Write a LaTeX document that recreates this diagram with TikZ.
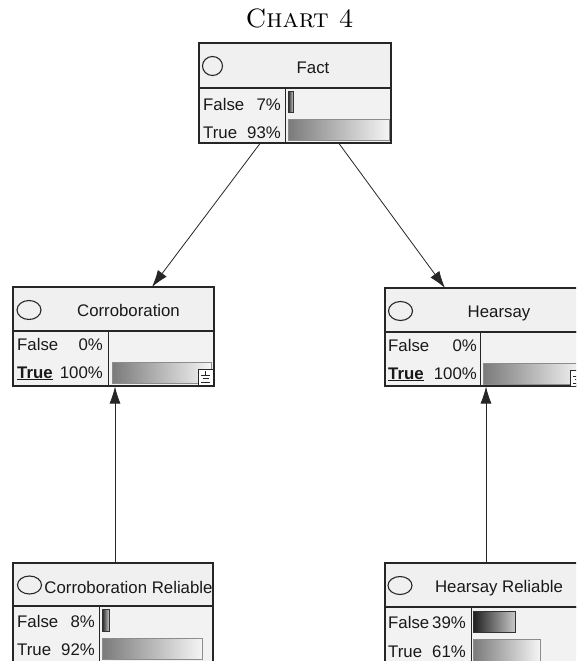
\documentclass[tikz,border=0pt]{standalone}
\usepackage{fontspec}
\newfontfamily\bnfont{Liberation Sans}
\usetikzlibrary{arrows.meta}
\begin{document}
\begin{tikzpicture}[x=1pt,y=-1pt,
  boxline/.style={draw=black!85,line width=1.1pt},
  hdr/.style={boxline,fill=black!6,rectangle,inner sep=0pt,outer sep=0pt,anchor=north west},
  tbl/.style={boxline,fill=black!5,rectangle,inner sep=0pt,outer sep=0pt,anchor=north west},
  lbl/.style={font=\bnfont\fontsize{16.8}{18}\selectfont,inner sep=0pt,text=black!90},
  bar/.style={draw=black!45,line width=0.8pt,left color=black!52,right color=black!4},
  darkbar/.style={draw=black!80,line width=0.8pt,left color=black!88,right color=black!22},
  oval/.style={draw=black!85,line width=1.1pt},
  link/.style={draw=black!85,line width=0.8pt,-{Latex[length=17pt,width=11pt]}},
  divider/.style={draw=black!85,line width=1pt}]
\useasboundingbox (0,0) rectangle (576,661);
\clip (0,0) rectangle (576,661);
\fill[white] (0,0) rectangle (576,661);

% title
\node (title) at (299.5,18) {\fontsize{26.5}{30}\selectfont\textsc{Chart 4}};

% ---------- Fact ----------
\node[hdr,minimum width=192pt,minimum height=45pt] (facth) at (199,43) {};
\node[tbl,minimum width=192pt,minimum height=55pt] (factt) at (199,88) {};
\draw[divider] (285,88) -- (285,143);
\draw[oval] (212.5,66) ellipse (10pt and 9.5pt);
\node[lbl,anchor=base] (factn) at (313,74) {Fact};
\node[lbl,anchor=base west] (factf) at (203,110) {False};
\node[lbl,anchor=base east] (factfp) at (281,110) {7\%};
\node[lbl,anchor=base west] (factt1) at (203,138) {True};
\node[lbl,anchor=base east] (factp) at (281,138) {93\%};
\draw[darkbar] (288,91) rectangle (293,112);
\draw[bar] (288,119) rectangle (389,140);

% ---------- Corroboration ----------
\node[hdr,minimum width=201pt,minimum height=44pt] (corh) at (13,287) {};
\node[tbl,minimum width=201pt,minimum height=55pt] (cort) at (13,331) {};
\draw[divider] (108,331) -- (108,386);
\draw[oval] (29,310) ellipse (12pt and 9.5pt);
\node[lbl,anchor=base] (corn) at (128.5,316) {Corroboration};
\node[lbl,anchor=base west] (corf) at (17,350) {False};
\node[lbl,anchor=base east] (corfp) at (103,350) {0\%};
\node[lbl,anchor=base west] (cortr) at (17,378) {\underline{\textbf{True}}};
\node[lbl,anchor=base east] (corp) at (103,378) {100\%};
\draw[bar] (112,362) rectangle (211,383);
\draw[black!85,line width=0.8pt,fill=white] (198,369) rectangle (213,385);
\draw[black!85,line width=0.7pt] (205.5,371) -- (205.5,375)
  (201,375) -- (210,375) (202.5,378.5) -- (208.5,378.5) (201,382) -- (210,382);

% ---------- Hearsay ----------
\node[hdr,minimum width=220pt,minimum height=44pt] (hsh) at (385,288) {};
\node[tbl,minimum width=220pt,minimum height=54pt] (hst) at (385,332) {};
\draw[divider] (480,332) -- (480,386);
\draw[oval] (400.5,311) ellipse (12pt and 9.5pt);
\node[lbl,anchor=base] (hsn) at (499,317) {Hearsay};
\node[lbl,anchor=base west] (hsf) at (388,351) {False};
\node[lbl,anchor=base east] (hsfp) at (477,351) {0\%};
\node[lbl,anchor=base west] (hstr) at (388,379) {\underline{\textbf{True}}};
\node[lbl,anchor=base east] (hsp) at (477,379) {100\%};
\draw[bar] (483,363) rectangle (582,384);
\draw[black!85,line width=0.8pt,fill=white] (570,370) rectangle (585,386);
\draw[black!85,line width=0.7pt] (577.5,372) -- (577.5,376)
  (573,376) -- (582,376) (574.5,379.5) -- (580.5,379.5) (573,383) -- (582,383);

% ---------- Corroboration Reliable ----------
\node[hdr,minimum width=200pt,minimum height=43pt] (crh) at (13,563) {};
\node[tbl,minimum width=200pt,minimum height=70pt] (crt) at (13,606) {};
\draw[divider] (99,606) -- (99,676);
\draw[oval] (29.5,585) ellipse (12pt and 9pt);
\node[lbl,anchor=base] (crn) at (128.5,593) {Corroboration Reliable};
\node[lbl,anchor=base west] (crf) at (17,627) {False};
\node[lbl,anchor=base east] (crfp) at (95,627) {8\%};
\node[lbl,anchor=base west] (crtr) at (17,655) {True};
\node[lbl,anchor=base east] (crp) at (95,655) {92\%};
\draw[darkbar] (102,609) rectangle (109,631);
\draw[bar] (102,638) rectangle (202,659);

% ---------- Hearsay Reliable ----------
\node[hdr,minimum width=220pt,minimum height=44pt] (hrh) at (385,563) {};
\node[tbl,minimum width=220pt,minimum height=70pt] (hrt) at (385,607) {};
\draw[divider] (471,607) -- (471,677);
\draw[oval] (400,585.5) ellipse (12pt and 9pt);
\node[lbl,anchor=base] (hrn) at (499,592) {Hearsay Reliable};
\node[lbl,anchor=base west] (hrf) at (388,628) {False};
\node[lbl,anchor=base east] (hrfp) at (466,628) {39\%};
\node[lbl,anchor=base west] (hrtr) at (388,657) {True};
\node[lbl,anchor=base east] (hrp) at (466,657) {61\%};
\draw[darkbar] (473,611) rectangle (515,632);
\draw[bar] (473,639) rectangle (540,662);

% ---------- connectors ----------
\coordinate (fl) at (260,143.5);
\coordinate (fr) at (339,143.5);
\coordinate (cin) at (152,287);
\coordinate (hin) at (445,288);
\coordinate (cout) at (115,386.5);
\coordinate (hout) at (486,386.5);
\coordinate (crup) at (115,563);
\coordinate (hrup) at (486,563);
\draw[link] (fl) -- (cin);
\draw[link] (fr) -- (hin);
\draw[link] (crup) -- (cout);
\draw[link] (hrup) -- (hout);
\end{tikzpicture}
\end{document}
